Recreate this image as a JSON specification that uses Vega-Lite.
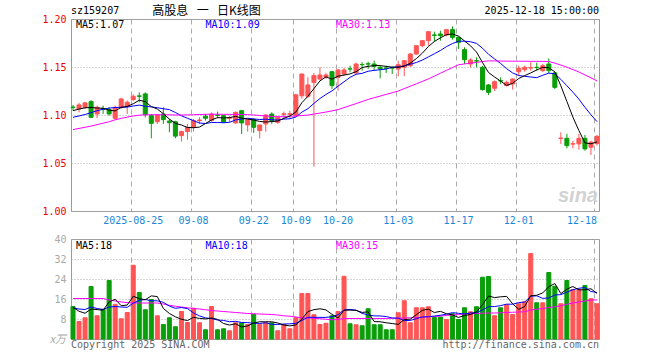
{
"$schema": "https://vega.github.io/schema/vega-lite/v6.json",
"padding": {"left": 41, "top": 4, "right": 0, "bottom": 0},
"background": "white",
"spacing": 28,
"bounds": "flush",
"config": {
  "view": {"stroke": "#999999", "strokeWidth": 1},
  "axis": {"labelFont": "DejaVu Sans Mono", "labelFontSize": 10, "domain": false, "ticks": false, "title": null, "gridColor": "#aaaaaa", "gridWidth": 1, "labelOverlap": false, "labelFlush": false},
  "line": {"strokeWidth": 1, "interpolate": "linear"}
},
"datasets": {"k": [
{"d":"2025-08-11","o":1.1082,"h":1.1105,"l":1.1046,"c":1.1078,"v":13.0,"m5":1.1045,"m10":1.0976,"m30":1.0848,"vm5":12.7,"vm10":12.4,"vm30":16.2},
{"d":"2025-08-12","o":1.1063,"h":1.1126,"l":1.1028,"c":1.1105,"v":7.0,"m5":1.1062,"m10":1.0990,"m30":1.0860,"vm5":11.1,"vm10":12.0,"vm30":16.2},
{"d":"2025-08-13","o":1.1080,"h":1.1137,"l":1.1063,"c":1.1126,"v":8.5,"m5":1.1075,"m10":1.1005,"m30":1.0872,"vm5":10.3,"vm10":11.8,"vm30":16.2},
{"d":"2025-08-14","o":1.1140,"h":1.1154,"l":1.0968,"c":1.0976,"v":21.0,"m5":1.1078,"m10":1.1025,"m30":1.0885,"vm5":12.0,"vm10":12.8,"vm30":16.2},
{"d":"2025-08-15","o":1.1011,"h":1.1098,"l":1.0966,"c":1.1080,"v":9.3,"m5":1.1073,"m10":1.1045,"m30":1.0900,"vm5":11.76,"vm10":12.2,"vm30":16.2},
{"d":"2025-08-18","o":1.1065,"h":1.1098,"l":1.1011,"c":1.1061,"v":11.9,"m5":1.1070,"m10":1.1060,"m30":1.0915,"vm5":11.54,"vm10":11.8,"vm30":16.2},
{"d":"2025-08-19","o":1.1056,"h":1.1080,"l":1.0993,"c":1.1011,"v":23.4,"m5":1.1051,"m10":1.1072,"m30":1.0930,"vm5":14.82,"vm10":12.8,"vm30":15.6},
{"d":"2025-08-20","o":1.0966,"h":1.1098,"l":1.0950,"c":1.1080,"v":13.9,"m5":1.1042,"m10":1.1078,"m30":1.0950,"vm5":15.9,"vm10":13.0,"vm30":15.2},
{"d":"2025-08-21","o":1.1080,"h":1.1180,"l":1.1063,"c":1.1167,"v":8.1,"m5":1.1080,"m10":1.1080,"m30":1.0965,"vm5":13.32,"vm10":12.8,"vm30":14.8},
{"d":"2025-08-22","o":1.1091,"h":1.1150,"l":1.1011,"c":1.1133,"v":10.6,"m5":1.1090,"m10":1.1082,"m30":1.0978,"vm5":13.58,"vm10":12.67,"vm30":14.6},
{"d":"2025-08-25","o":1.1160,"h":1.1215,"l":1.1147,"c":1.1195,"v":29.5,"m5":1.1117,"m10":1.1094,"m30":1.0990,"vm5":17.1,"vm10":14.32,"vm30":14.4},
{"d":"2025-08-26","o":1.1199,"h":1.1236,"l":1.1133,"c":1.1195,"v":18.6,"m5":1.1154,"m10":1.1103,"m30":1.0998,"vm5":16.14,"vm10":15.48,"vm30":14.4},
{"d":"2025-08-27","o":1.1220,"h":1.1236,"l":1.0975,"c":1.1005,"v":11.7,"m5":1.1139,"m10":1.1091,"m30":1.1002,"vm5":15.7,"vm10":15.8,"vm30":14.4},
{"d":"2025-08-28","o":1.0993,"h":1.1010,"l":1.0757,"c":1.0913,"v":15.8,"m5":1.1088,"m10":1.1084,"m30":1.1003,"vm5":17.24,"vm10":15.28,"vm30":14.4},
{"d":"2025-08-29","o":1.0930,"h":1.1010,"l":1.0907,"c":1.1000,"v":9.3,"m5":1.1062,"m10":1.1076,"m30":1.1003,"vm5":16.98,"vm10":15.28,"vm30":14.4},
{"d":"2025-09-01","o":1.1010,"h":1.1080,"l":1.0907,"c":1.0952,"v":5.8,"m5":1.1013,"m10":1.1065,"m30":1.1003,"vm5":12.24,"vm10":14.67,"vm30":14.0},
{"d":"2025-09-02","o":1.0937,"h":1.0958,"l":1.0820,"c":1.0920,"v":8.5,"m5":1.0958,"m10":1.1056,"m30":1.1002,"vm5":10.22,"vm10":13.18,"vm30":13.5},
{"d":"2025-09-03","o":1.0930,"h":1.0940,"l":1.0757,"c":1.0780,"v":4.9,"m5":1.0913,"m10":1.1026,"m30":1.1000,"vm5":8.86,"vm10":12.28,"vm30":13.1},
{"d":"2025-09-04","o":1.0785,"h":1.0837,"l":1.0723,"c":1.0827,"v":11.0,"m5":1.0896,"m10":1.0992,"m30":1.1000,"vm5":7.9,"vm10":12.57,"vm30":12.8},
{"d":"2025-09-05","o":1.0827,"h":1.0907,"l":1.0743,"c":1.0872,"v":6.6,"m5":1.0870,"m10":1.0966,"m30":1.1001,"vm5":7.36,"vm10":12.17,"vm30":12.5},
{"d":"2025-09-08","o":1.0872,"h":1.0958,"l":1.0827,"c":1.0942,"v":12.3,"m5":1.0868,"m10":1.0941,"m30":1.1003,"vm5":8.66,"vm10":10.45,"vm30":12.2},
{"d":"2025-09-09","o":1.0940,"h":1.0976,"l":1.0907,"c":1.0948,"v":6.5,"m5":1.0874,"m10":1.0916,"m30":1.1005,"vm5":8.26,"vm10":9.24,"vm30":12.0},
{"d":"2025-09-10","o":1.0987,"h":1.1010,"l":1.0942,"c":1.0966,"v":3.7,"m5":1.0911,"m10":1.0912,"m30":1.1007,"vm5":8.02,"vm10":8.44,"vm30":11.7},
{"d":"2025-09-11","o":1.0942,"h":1.1027,"l":1.0930,"c":1.1010,"v":13.0,"m5":1.0948,"m10":1.0922,"m30":1.1008,"vm5":8.42,"vm10":8.16,"vm30":11.4},
{"d":"2025-09-12","o":1.1000,"h":1.1035,"l":1.0966,"c":1.0997,"v":3.7,"m5":1.0973,"m10":1.0922,"m30":1.1008,"vm5":7.84,"vm10":7.6,"vm30":11.2},
{"d":"2025-09-15","o":1.0993,"h":1.1000,"l":1.0917,"c":1.0924,"v":4.1,"m5":1.0969,"m10":1.0919,"m30":1.1007,"vm5":6.2,"vm10":7.43,"vm30":11.0},
{"d":"2025-09-16","o":1.0966,"h":1.0993,"l":1.0924,"c":1.0970,"v":3.3,"m5":1.0973,"m10":1.0924,"m30":1.1006,"vm5":5.56,"vm10":6.91,"vm30":10.8},
{"d":"2025-09-17","o":1.0917,"h":1.1035,"l":1.0910,"c":1.1028,"v":6.5,"m5":1.0986,"m10":1.0949,"m30":1.1006,"vm5":6.12,"vm10":7.07,"vm30":10.6},
{"d":"2025-09-18","o":1.1045,"h":1.1052,"l":1.0802,"c":1.0917,"v":6.5,"m5":1.0967,"m10":1.0958,"m30":1.1005,"vm5":4.82,"vm10":6.62,"vm30":10.4},
{"d":"2025-09-19","o":1.0896,"h":1.0958,"l":1.0827,"c":1.0952,"v":5.8,"m5":1.0958,"m10":1.0966,"m30":1.1004,"vm5":5.24,"vm10":6.54,"vm30":10.2},
{"d":"2025-09-22","o":1.0952,"h":1.0966,"l":1.0813,"c":1.0872,"v":9.9,"m5":1.0948,"m10":1.0959,"m30":1.1000,"vm5":6.4,"vm10":6.3,"vm30":10.1},
{"d":"2025-09-23","o":1.0837,"h":1.0900,"l":1.0757,"c":1.0896,"v":5.8,"m5":1.0933,"m10":1.0953,"m30":1.0995,"vm5":6.9,"vm10":6.23,"vm30":10.0},
{"d":"2025-09-24","o":1.0907,"h":1.1010,"l":1.0827,"c":1.1000,"v":6.5,"m5":1.0927,"m10":1.0957,"m30":1.0990,"vm5":6.9,"vm10":6.51,"vm30":9.9},
{"d":"2025-09-25","o":1.1010,"h":1.1028,"l":1.0907,"c":1.0942,"v":6.5,"m5":1.0932,"m10":1.0950,"m30":1.0985,"vm5":6.9,"vm10":5.86,"vm30":9.8},
{"d":"2025-09-26","o":1.0924,"h":1.0987,"l":1.0907,"c":1.0976,"v":3.3,"m5":1.0937,"m10":1.0948,"m30":1.0982,"vm5":6.4,"vm10":5.82,"vm30":9.6},
{"d":"2025-09-29","o":1.1007,"h":1.1035,"l":1.0958,"c":1.1012,"v":5.8,"m5":1.0965,"m10":1.0957,"m30":1.0983,"vm5":5.58,"vm10":5.99,"vm30":9.3},
{"d":"2025-09-30","o":1.1007,"h":1.1045,"l":1.0958,"c":1.1013,"v":4.1,"m5":1.0989,"m10":1.0961,"m30":1.0986,"vm5":5.24,"vm10":6.07,"vm30":9.1},
{"d":"2025-10-09","o":1.0990,"h":1.1220,"l":1.0980,"c":1.1210,"v":8.5,"m5":1.1031,"m10":1.0979,"m30":1.0990,"vm5":5.64,"vm10":6.27,"vm30":8.8},
{"d":"2025-10-10","o":1.1200,"h":1.1430,"l":1.1170,"c":1.1427,"v":18.2,"m5":1.1128,"m10":1.1030,"m30":1.0995,"vm5":7.98,"vm10":7.44,"vm30":8.5},
{"d":"2025-10-13","o":1.1195,"h":1.1393,"l":1.1180,"c":1.1313,"v":18.2,"m5":1.1195,"m10":1.1066,"m30":1.0999,"vm5":10.96,"vm10":8.68,"vm30":8.4},
{"d":"2025-10-14","o":1.1340,"h":1.1438,"l":1.0462,"c":1.1410,"v":9.7,"m5":1.1275,"m10":1.1120,"m30":1.1010,"vm5":11.74,"vm10":8.66,"vm30":8.3},
{"d":"2025-10-15","o":1.1375,"h":1.1497,"l":1.1360,"c":1.1417,"v":5.8,"m5":1.1355,"m10":1.1172,"m30":1.1020,"vm5":12.08,"vm10":8.66,"vm30":8.1},
{"d":"2025-10-16","o":1.1392,"h":1.1440,"l":1.1380,"c":1.1417,"v":6.3,"m5":1.1397,"m10":1.1214,"m30":1.1031,"vm5":11.64,"vm10":8.64,"vm30":7.9},
{"d":"2025-10-17","o":1.1451,"h":1.1460,"l":1.1270,"c":1.1306,"v":9.3,"m5":1.1373,"m10":1.1251,"m30":1.1043,"vm5":9.86,"vm10":8.92,"vm30":7.7},
{"d":"2025-10-20","o":1.1392,"h":1.1480,"l":1.1254,"c":1.1469,"v":11.0,"m5":1.1404,"m10":1.1300,"m30":1.1056,"vm5":8.42,"vm10":9.69,"vm30":7.8},
{"d":"2025-10-21","o":1.1427,"h":1.1490,"l":1.1410,"c":1.1469,"v":25.1,"m5":1.1416,"m10":1.1346,"m30":1.1077,"vm5":11.5,"vm10":11.62,"vm30":8.2},
{"d":"2025-10-22","o":1.1480,"h":1.1514,"l":1.1445,"c":1.1479,"v":6.1,"m5":1.1428,"m10":1.1392,"m30":1.1098,"vm5":11.56,"vm10":11.82,"vm30":8.2},
{"d":"2025-10-23","o":1.1438,"h":1.1545,"l":1.1430,"c":1.1531,"v":5.7,"m5":1.1451,"m10":1.1424,"m30":1.1119,"vm5":11.44,"vm10":11.54,"vm30":8.2},
{"d":"2025-10-24","o":1.1526,"h":1.1550,"l":1.1462,"c":1.1524,"v":5.3,"m5":1.1494,"m10":1.1434,"m30":1.1140,"vm5":10.64,"vm10":10.25,"vm30":8.2},
{"d":"2025-10-27","o":1.1533,"h":1.1555,"l":1.1480,"c":1.1531,"v":12.1,"m5":1.1507,"m10":1.1456,"m30":1.1162,"vm5":10.86,"vm10":9.64,"vm30":8.2},
{"d":"2025-10-28","o":1.1531,"h":1.1566,"l":1.1462,"c":1.1507,"v":5.7,"m5":1.1514,"m10":1.1465,"m30":1.1180,"vm5":6.98,"vm10":9.24,"vm30":8.2},
{"d":"2025-10-29","o":1.1497,"h":1.1510,"l":1.1382,"c":1.1480,"v":5.7,"m5":1.1515,"m10":1.1472,"m30":1.1197,"vm5":6.9,"vm10":9.23,"vm30":8.2},
{"d":"2025-10-30","o":1.1490,"h":1.1514,"l":1.1438,"c":1.1486,"v":3.7,"m5":1.1506,"m10":1.1479,"m30":1.1215,"vm5":6.5,"vm10":8.97,"vm30":8.2},
{"d":"2025-10-31","o":1.1490,"h":1.1500,"l":1.1427,"c":1.1489,"v":3.7,"m5":1.1499,"m10":1.1497,"m30":1.1232,"vm5":6.18,"vm10":8.41,"vm30":8.3},
{"d":"2025-11-03","o":1.1479,"h":1.1566,"l":1.1403,"c":1.1524,"v":10.5,"m5":1.1497,"m10":1.1502,"m30":1.1250,"vm5":5.86,"vm10":8.36,"vm30":8.3},
{"d":"2025-11-04","o":1.1497,"h":1.1570,"l":1.1403,"c":1.1566,"v":15.3,"m5":1.1509,"m10":1.1512,"m30":1.1275,"vm5":7.78,"vm10":7.38,"vm30":8.4},
{"d":"2025-11-05","o":1.1514,"h":1.1645,"l":1.1500,"c":1.1635,"v":6.5,"m5":1.1540,"m10":1.1528,"m30":1.1300,"vm5":7.94,"vm10":7.42,"vm30":8.5},
{"d":"2025-11-06","o":1.1635,"h":1.1725,"l":1.1630,"c":1.1722,"v":12.5,"m5":1.1587,"m10":1.1547,"m30":1.1325,"vm5":9.7,"vm10":8.1,"vm30":8.6},
{"d":"2025-11-07","o":1.1722,"h":1.1780,"l":1.1705,"c":1.1774,"v":12.5,"m5":1.1644,"m10":1.1572,"m30":1.1350,"vm5":11.46,"vm10":8.82,"vm30":8.7},
{"d":"2025-11-10","o":1.1774,"h":1.1870,"l":1.1722,"c":1.1868,"v":12.9,"m5":1.1713,"m10":1.1605,"m30":1.1376,"vm5":11.94,"vm10":8.9,"vm30":8.9},
{"d":"2025-11-11","o":1.1834,"h":1.1868,"l":1.1764,"c":1.1830,"v":8.6,"m5":1.1766,"m10":1.1638,"m30":1.1405,"vm5":10.6,"vm10":9.19,"vm30":9.0},
{"d":"2025-11-12","o":1.1844,"h":1.1878,"l":1.1774,"c":1.1826,"v":8.8,"m5":1.1804,"m10":1.1672,"m30":1.1435,"vm5":11.06,"vm10":9.5,"vm30":9.2},
{"d":"2025-11-13","o":1.1833,"h":1.1892,"l":1.1820,"c":1.1889,"v":7.8,"m5":1.1837,"m10":1.1712,"m30":1.1465,"vm5":10.12,"vm10":9.91,"vm30":9.4},
{"d":"2025-11-14","o":1.1889,"h":1.1923,"l":1.1785,"c":1.1809,"v":10.1,"m5":1.1844,"m10":1.1744,"m30":1.1494,"vm5":9.64,"vm10":10.55,"vm30":9.6},
{"d":"2025-11-17","o":1.1809,"h":1.1816,"l":1.1688,"c":1.1757,"v":7.8,"m5":1.1822,"m10":1.1768,"m30":1.1523,"vm5":8.62,"vm10":10.28,"vm30":9.8},
{"d":"2025-11-18","o":1.1681,"h":1.1705,"l":1.1531,"c":1.1576,"v":12.5,"m5":1.1771,"m10":1.1769,"m30":1.1532,"vm5":9.4,"vm10":10.0,"vm30":10.0},
{"d":"2025-11-19","o":1.1531,"h":1.1590,"l":1.1497,"c":1.1573,"v":10.9,"m5":1.1721,"m10":1.1763,"m30":1.1540,"vm5":9.82,"vm10":10.44,"vm30":10.1},
{"d":"2025-11-20","o":1.1566,"h":1.1601,"l":1.1497,"c":1.1562,"v":12.9,"m5":1.1655,"m10":1.1746,"m30":1.1548,"vm5":10.84,"vm10":10.48,"vm30":10.2},
{"d":"2025-11-21","o":1.1497,"h":1.1510,"l":1.1254,"c":1.1264,"v":24.7,"m5":1.1546,"m10":1.1695,"m30":1.1556,"vm5":13.76,"vm10":11.7,"vm30":10.3},
{"d":"2025-11-24","o":1.1313,"h":1.1320,"l":1.1208,"c":1.1236,"v":25.0,"m5":1.1442,"m10":1.1632,"m30":1.1564,"vm5":17.2,"vm10":12.91,"vm30":10.4},
{"d":"2025-11-25","o":1.1278,"h":1.1360,"l":1.1250,"c":1.1347,"v":9.3,"m5":1.1396,"m10":1.1584,"m30":1.1563,"vm5":16.56,"vm10":12.98,"vm30":10.4},
{"d":"2025-11-26","o":1.1358,"h":1.1392,"l":1.1323,"c":1.1354,"v":12.5,"m5":1.1353,"m10":1.1537,"m30":1.1562,"vm5":16.88,"vm10":13.35,"vm30":10.5},
{"d":"2025-11-27","o":1.1306,"h":1.1358,"l":1.1299,"c":1.1340,"v":13.7,"m5":1.1308,"m10":1.1482,"m30":1.1561,"vm5":17.04,"vm10":13.94,"vm30":10.6},
{"d":"2025-11-28","o":1.1323,"h":1.1380,"l":1.1264,"c":1.1375,"v":9.8,"m5":1.1330,"m10":1.1438,"m30":1.1561,"vm5":14.06,"vm10":13.91,"vm30":10.7},
{"d":"2025-12-01","o":1.1451,"h":1.1514,"l":1.1410,"c":1.1486,"v":14.1,"m5":1.1380,"m10":1.1411,"m30":1.1560,"vm5":11.88,"vm10":14.54,"vm30":10.8},
{"d":"2025-12-02","o":1.1472,"h":1.1514,"l":1.1450,"c":1.1497,"v":14.9,"m5":1.1410,"m10":1.1403,"m30":1.1560,"vm5":13.0,"vm10":14.78,"vm30":10.9},
{"d":"2025-12-03","o":1.1489,"h":1.1550,"l":1.1462,"c":1.1493,"v":34.2,"m5":1.1438,"m10":1.1396,"m30":1.1559,"vm5":17.34,"vm10":17.11,"vm30":11.6},
{"d":"2025-12-04","o":1.1497,"h":1.1545,"l":1.1462,"c":1.1494,"v":14.5,"m5":1.1469,"m10":1.1389,"m30":1.1559,"vm5":17.5,"vm10":17.27,"vm30":11.9},
{"d":"2025-12-05","o":1.1462,"h":1.1531,"l":1.1450,"c":1.1514,"v":14.5,"m5":1.1497,"m10":1.1414,"m30":1.1558,"vm5":18.44,"vm10":16.25,"vm30":12.2},
{"d":"2025-12-08","o":1.1531,"h":1.1590,"l":1.1438,"c":1.1462,"v":26.6,"m5":1.1492,"m10":1.1436,"m30":1.1558,"vm5":20.94,"vm10":16.41,"vm30":12.6},
{"d":"2025-12-09","o":1.1438,"h":1.1445,"l":1.1270,"c":1.1288,"v":21.1,"m5":1.1450,"m10":1.1430,"m30":1.1540,"vm5":22.18,"vm10":17.59,"vm30":12.9},
{"d":"2025-12-10","o":1.0755,"h":1.0820,"l":1.0699,"c":1.0760,"v":14.1,"m5":1.1304,"m10":1.1371,"m30":1.1520,"vm5":18.16,"vm10":17.75,"vm30":13.3},
{"d":"2025-12-11","o":1.0757,"h":1.0803,"l":1.0653,"c":1.0681,"v":23.4,"m5":1.1141,"m10":1.1305,"m30":1.1498,"vm5":19.94,"vm10":18.72,"vm30":13.9},
{"d":"2025-12-12","o":1.0697,"h":1.0733,"l":1.0653,"c":1.0701,"v":19.8,"m5":1.0978,"m10":1.1238,"m30":1.1473,"vm5":21.0,"vm10":19.72,"vm30":14.4},
{"d":"2025-12-15","o":1.0699,"h":1.0803,"l":1.0639,"c":1.0757,"v":19.8,"m5":1.0837,"m10":1.1165,"m30":1.1448,"vm5":19.64,"vm10":20.29,"vm30":14.8},
{"d":"2025-12-16","o":1.0757,"h":1.0792,"l":1.0629,"c":1.0647,"v":21.4,"m5":1.0709,"m10":1.1080,"m30":1.1418,"vm5":19.7,"vm10":20.6,"vm30":15.2},
{"d":"2025-12-17","o":1.0664,"h":1.0733,"l":1.0584,"c":1.0716,"v":16.1,"m5":1.0700,"m10":1.1002,"m30":1.1387,"vm5":20.1,"vm10":19.0,"vm30":15.6},
{"d":"2025-12-18","o":1.0702,"h":1.0792,"l":1.0681,"c":1.0778,"v":14.1,"m5":1.0720,"m10":1.0931,"m30":1.1355,"vm5":18.24,"vm10":18.6,"vm30":15.6}
]},
"vconcat": [
{
  "width": 528, "height": 192,
  "data": {"name": "k"},
  "encoding": {
    "x": {"field": "d", "type": "ordinal", "scale": {"paddingInner": 0.333, "paddingOuter": 0},
      "axis": {"values": ["2025-08-25","2025-09-08","2025-09-22","2025-10-09","2025-10-20","2025-11-03","2025-11-17","2025-12-01","2025-12-18"],
        "bandPosition": 0, "labelAngle": 0, "labelColor": "#1a88d8", "labelPadding": 4, "labelOverlap": false,
        "labelExpr": "datum.value == '2025-08-25' ? datum.value : slice(datum.value, 5)",
        "labelAlign": {"condition": {"test": "datum.value == '2025-12-18'", "value": "right"}, "value": "center"},
        "grid": true, "gridDash": [5, 4]}}
  },
  "layer": [
    {"mark": {"type": "rule", "strokeWidth": 1},
     "encoding": {
       "y": {"field": "l", "type": "quantitative", "scale": {"domain": [1.0, 1.2], "zero": false, "nice": false},
         "axis": {"values": [1.0, 1.05, 1.1, 1.15, 1.2], "tickCount": 10, "format": ".2f", "labelColor": "#ee0000", "labelPadding": 5, "labelOverlap": false, "grid": true, "gridDash": [1, 2]}},
       "y2": {"field": "h"},
       "color": {"condition": {"test": "datum.c >= datum.o", "value": "#ff5555"}, "value": "#0a9e0a"}}},
    {"mark": {"type": "bar", "strokeWidth": 1},
     "encoding": {
       "y": {"field": "o", "type": "quantitative"},
       "y2": {"field": "c"},
       "fill": {"condition": {"test": "datum.c >= datum.o", "value": "#ff5555"}, "value": "#0a9e0a"},
       "stroke": {"condition": {"test": "datum.c >= datum.o", "value": "#ff5555"}, "value": "#0a9e0a"}}},
    {"mark": {"type": "line", "color": "#0000ff"}, "encoding": {"y": {"field": "m10", "type": "quantitative"}}},
    {"mark": {"type": "line", "color": "#ff00ff"}, "encoding": {"y": {"field": "m30", "type": "quantitative"}}},
    {"mark": {"type": "line", "color": "#000000"}, "encoding": {"y": {"field": "m5", "type": "quantitative"}}},
    {"data": {"values": [{"t": "MA5:1.07"}]},
     "mark": {"type": "text", "align": "left", "baseline": "middle", "dx": 3, "dy": 6, "font": "DejaVu Sans Mono", "fontSize": 10, "color": "#000000"},
     "encoding": {"x": {"datum": "2025-08-11", "type": "ordinal"}, "y": {"datum": 1.2, "type": "quantitative"}, "text": {"field": "t"}}},
    {"data": {"values": [{"t": "MA10:1.09"}]},
     "mark": {"type": "text", "align": "left", "baseline": "middle", "dx": 0, "dy": 6, "font": "DejaVu Sans Mono", "fontSize": 10, "color": "#0000ff"},
     "encoding": {"x": {"datum": "2025-09-10", "type": "ordinal"}, "y": {"datum": 1.2, "type": "quantitative"}, "text": {"field": "t"}}},
    {"data": {"values": [{"t": "MA30:1.13"}]},
     "mark": {"type": "text", "align": "left", "baseline": "middle", "dx": -2, "dy": 6, "font": "DejaVu Sans Mono", "fontSize": 10, "color": "#ff00ff"},
     "encoding": {"x": {"datum": "2025-10-20", "type": "ordinal"}, "y": {"datum": 1.2, "type": "quantitative"}, "text": {"field": "t"}}},
    {"data": {"values": [{"t": "sz159207"}]},
     "mark": {"type": "text", "align": "left", "baseline": "middle", "dx": -2, "dy": -8, "font": "DejaVu Sans Mono", "fontSize": 10, "color": "#000000"},
     "encoding": {"x": {"datum": "2025-08-11", "type": "ordinal"}, "y": {"datum": 1.2, "type": "quantitative"}, "text": {"field": "t"}}},
    {"data": {"values": [{"t": "高股息\u2002\u2009一\u2002\u2009日K线图"}]},
     "mark": {"type": "text", "align": "center", "baseline": "middle", "dx": 1, "dy": -8, "font": "Noto Sans CJK SC", "fontSize": 12, "color": "#000000"},
     "encoding": {"x": {"datum": "2025-09-10", "type": "ordinal"}, "y": {"datum": 1.2, "type": "quantitative"}, "text": {"field": "t"}}},
    {"data": {"values": [{"t": "2025-12-18 15:00:00"}]},
     "mark": {"type": "text", "align": "right", "baseline": "middle", "dx": 2, "dy": -8, "font": "DejaVu Sans Mono", "fontSize": 10, "color": "#000000"},
     "encoding": {"x": {"datum": "2025-12-18", "type": "ordinal"}, "y": {"datum": 1.2, "type": "quantitative"}, "text": {"field": "t"}}},
    {"data": {"values": [{"t": "sina"}]},
     "mark": {"type": "text", "align": "right", "baseline": "middle", "dx": 1, "font": "Liberation Sans", "fontSize": 20, "fontWeight": "bold", "fontStyle": "italic", "color": "#d2d2d2"},
     "encoding": {"x": {"datum": "2025-12-18", "type": "ordinal"}, "y": {"datum": 1.016, "type": "quantitative"}, "text": {"field": "t"}}}
  ]
},
{
  "width": 528, "height": 100,
  "data": {"name": "k"},
  "encoding": {
    "x": {"field": "d", "type": "ordinal", "scale": {"paddingInner": 0.333, "paddingOuter": 0},
      "axis": {"values": ["2025-08-25","2025-09-08","2025-09-22","2025-10-09","2025-10-20","2025-11-03","2025-11-17","2025-12-01","2025-12-18"],
        "bandPosition": 0, "labels": false, "grid": true, "gridDash": [5, 4]}}
  },
  "layer": [
    {"mark": {"type": "bar", "strokeWidth": 1},
     "encoding": {
       "y": {"field": "v", "type": "quantitative", "scale": {"domain": [0, 40], "nice": false},
         "axis": {"values": [8, 16, 24, 32, 40], "tickCount": 10, "labelColor": "#aaaaaa", "labelPadding": 5, "labelOverlap": false, "grid": true, "gridDash": [1, 2]}},
       "fill": {"condition": {"test": "datum.c >= datum.o", "value": "#ff5555"}, "value": "#0a9e0a"},
       "stroke": {"condition": {"test": "datum.c >= datum.o", "value": "#ff5555"}, "value": "#0a9e0a"}}},
    {"mark": {"type": "line", "color": "#ff00ff"}, "encoding": {"y": {"field": "vm30", "type": "quantitative"}}},
    {"mark": {"type": "line", "color": "#0000ff"}, "encoding": {"y": {"field": "vm10", "type": "quantitative"}}},
    {"mark": {"type": "line", "color": "#000000"}, "encoding": {"y": {"field": "vm5", "type": "quantitative"}}},
    {"data": {"values": [{"t": "MA5:18"}]},
     "mark": {"type": "text", "align": "left", "baseline": "middle", "dx": 3, "dy": 7, "font": "DejaVu Sans Mono", "fontSize": 10, "color": "#000000"},
     "encoding": {"x": {"datum": "2025-08-11", "type": "ordinal"}, "y": {"datum": 40, "type": "quantitative"}, "text": {"field": "t"}}},
    {"data": {"values": [{"t": "MA10:18"}]},
     "mark": {"type": "text", "align": "left", "baseline": "middle", "dx": 0, "dy": 7, "font": "DejaVu Sans Mono", "fontSize": 10, "color": "#0000ff"},
     "encoding": {"x": {"datum": "2025-09-10", "type": "ordinal"}, "y": {"datum": 40, "type": "quantitative"}, "text": {"field": "t"}}},
    {"data": {"values": [{"t": "MA30:15"}]},
     "mark": {"type": "text", "align": "left", "baseline": "middle", "dx": -2, "dy": 7, "font": "DejaVu Sans Mono", "fontSize": 10, "color": "#ff00ff"},
     "encoding": {"x": {"datum": "2025-10-20", "type": "ordinal"}, "y": {"datum": 40, "type": "quantitative"}, "text": {"field": "t"}}},
    {"data": {"values": [{"t": "Copyright 2025 SINA.COM"}]},
     "mark": {"type": "text", "align": "left", "baseline": "middle", "dx": -2, "dy": 6, "font": "DejaVu Sans Mono", "fontSize": 10, "color": "#666666"},
     "encoding": {"x": {"datum": "2025-08-11", "type": "ordinal"}, "y": {"datum": 0, "type": "quantitative"}, "text": {"field": "t"}}},
    {"data": {"values": [{"t": "http://finance.sina.com.cn"}]},
     "mark": {"type": "text", "align": "right", "baseline": "middle", "dx": 2, "dy": 6, "font": "DejaVu Sans Mono", "fontSize": 10, "color": "#666666"},
     "encoding": {"x": {"datum": "2025-12-18", "type": "ordinal"}, "y": {"datum": 0, "type": "quantitative"}, "text": {"field": "t"}}},
    {"data": {"values": [{"t": "x万"}]},
     "mark": {"type": "text", "align": "right", "baseline": "middle", "dx": -7, "dy": 1, "font": "Noto Sans CJK SC", "fontSize": 11, "fontStyle": "italic", "color": "#aaaaaa"},
     "encoding": {"x": {"datum": "2025-08-11", "type": "ordinal"}, "y": {"datum": 0, "type": "quantitative"}, "text": {"field": "t"}}}
  ]
}
]
}
